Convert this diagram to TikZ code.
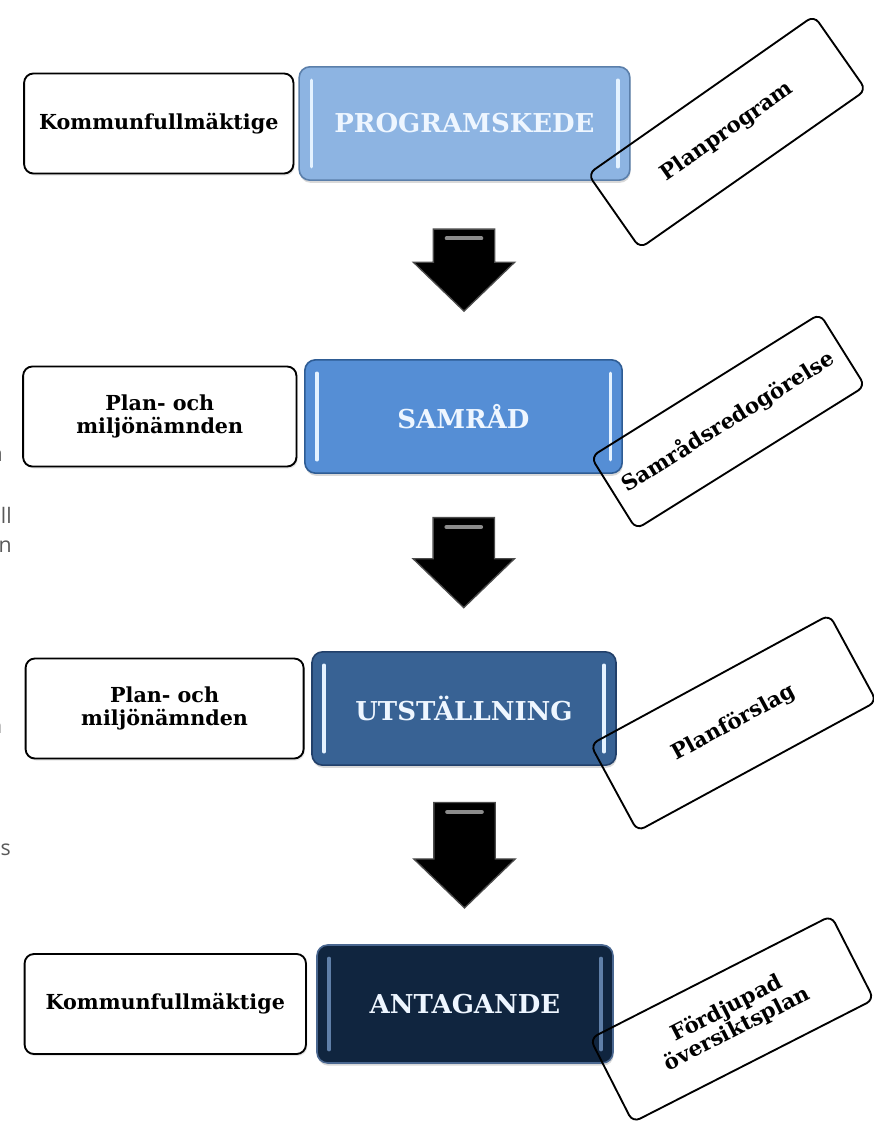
\documentclass[tikz,border=0pt]{standalone}
\usepackage{fontspec}
\setmainfont{DejaVu Serif}
\newfontfamily\sidefont{Open Sans}
\usepackage{tikz}
\usetikzlibrary{positioning}
\usetikzlibrary{arrows.meta}
\usetikzlibrary{shapes.arrows}
\usetikzlibrary{shadows}

\definecolor{progblue}{HTML}{8DB4E2}
\definecolor{progedge}{HTML}{5B7FAA}
\definecolor{samblue}{HTML}{558ED5}
\definecolor{samedge}{HTML}{2E5C94}
\definecolor{utsblue}{HTML}{386294}
\definecolor{utsedge}{HTML}{22406A}
\definecolor{antblue}{HTML}{10253F}
\definecolor{antedge}{HTML}{4A6790}
\definecolor{shine}{HTML}{E4F2FF}
\definecolor{antshine}{HTML}{5F7FA8}
\definecolor{stagetext}{HTML}{EEF6FF}

\tikzset{
  actor/.style={draw=black, fill=white, line width=1.4pt, rounded corners=7pt,
    minimum height=75pt, font=\bfseries\fontsize{15.5}{17}\selectfont,
    drop shadow={opacity=0.2, shadow xshift=1pt, shadow yshift=-1.5pt}},
  stage/.style n args={3}{draw=#2, fill=#1, line width=1.2pt, rounded corners=8pt,
    minimum height=85pt, text=stagetext, font=\bfseries\fontsize{19.5}{21}\selectfont,
    drop shadow={opacity=0.3, shadow xshift=0.5pt, shadow yshift=-2pt},
    path picture={
      \draw[#3, line width=2.5pt, line cap=round]
        ([shift={(9pt,-10pt)}]path picture bounding box.north west) --
        ([shift={(9pt,10pt)}]path picture bounding box.south west);
      \draw[#3, line width=2.5pt, line cap=round]
        ([shift={(-9pt,-10pt)}]path picture bounding box.north east) --
        ([shift={(-9pt,10pt)}]path picture bounding box.south east);
    }},
  output/.style={draw=black, line width=1.4pt, rounded corners=6pt, inner sep=2pt,
    font=\bfseries\fontsize{16}{17}\selectfont, align=center},
  downarrow/.style={single arrow, shape border rotate=270, fill=black,
    draw=black!70, line width=1pt, inner xsep=22.5pt, inner ysep=1pt,
    single arrow head extend=15pt, single arrow tip angle=92, yshift=11pt,
    path picture={
      \draw[black!45, line width=3pt, line cap=round]
        ([shift={(-13pt,-7pt)}]path picture bounding box.north) --
        ([shift={(13pt,-7pt)}]path picture bounding box.north);
    }},
  sidetext/.style={anchor=base east, text=black!65, inner sep=0pt,
    font=\sidefont\fontsize{16}{18}\selectfont}
}

\begin{document}
\begin{tikzpicture}[x=0.75pt, y=-0.75pt]
    \useasboundingbox (0,0) rectangle (874,1124);
    % nodes %
    \node[stage={progblue}{progedge}{shine}, minimum width=248pt, text centered] (prog) at (464.5,123.5) {PROGRAMSKEDE};
    \node[stage={samblue}{samedge}{shine}, minimum width=238pt, text centered] (samrad) at (463.5,416.5) {SAMRÅD};
    \node[stage={utsblue}{utsedge}{shine}, minimum width=228pt, text centered] (utst) at (464,708.5) {UTSTÄLLNING};
    \node[stage={antblue}{antedge}{antshine}, minimum width=222pt, minimum height=88.5pt, text centered] (antag) at (465,1004) {ANTAGANDE};
    \node[left=3pt of prog, actor, minimum width=202pt, text centered] (kf1) {Kommunfullmäktige};
    \node[left=5pt of samrad, actor, minimum width=205pt, align=center] (pmn1) {Plan- och\\miljönämnden};
    \node[left=5pt of utst, actor, minimum width=208.5pt, align=center] (pmn2) {Plan- och\\miljönämnden};
    \node[left=7pt of antag, actor, minimum width=211pt, text centered] (kf2) {Kommunfullmäktige};
    \node[output, rotate=35, minimum width=207pt, minimum height=68pt] (planprog) at (727,132) {Planprogram};
    \node[output, rotate=32, minimum width=202.5pt, minimum height=64pt] (samredo) at (728,421.5) {Samrådsredogörelse};
    \node[output, rotate=28.5, minimum width=204pt, minimum height=74pt] (planfors) at (733.5,723) {Planförslag};
    \node[output, rotate=27, minimum width=203pt, minimum height=70.5pt] (fordj) at (732,1019) {Fördjupad\\översiktsplan};
    % text cut at the left edge %
    \node[sidetext] (sa) at (3,461) {a};
    \node[sidetext] (sll) at (12,523) {ll};
    \node[sidetext] (sn) at (12,552) {n};
    \node[sidetext] (sn2) at (2.5,733) {n};
    \node[sidetext] (ss) at (11,855) {s};
    % edges %
    \path (prog) -- node[downarrow, minimum height=61.5pt] (arr1) {} (samrad);
    \path (samrad) -- node[downarrow, minimum height=67.5pt] (arr2) {} (utst);
    \path (utst) -- node[downarrow, minimum height=79pt] (arr3) {} (antag);
\end{tikzpicture}
\end{document}
